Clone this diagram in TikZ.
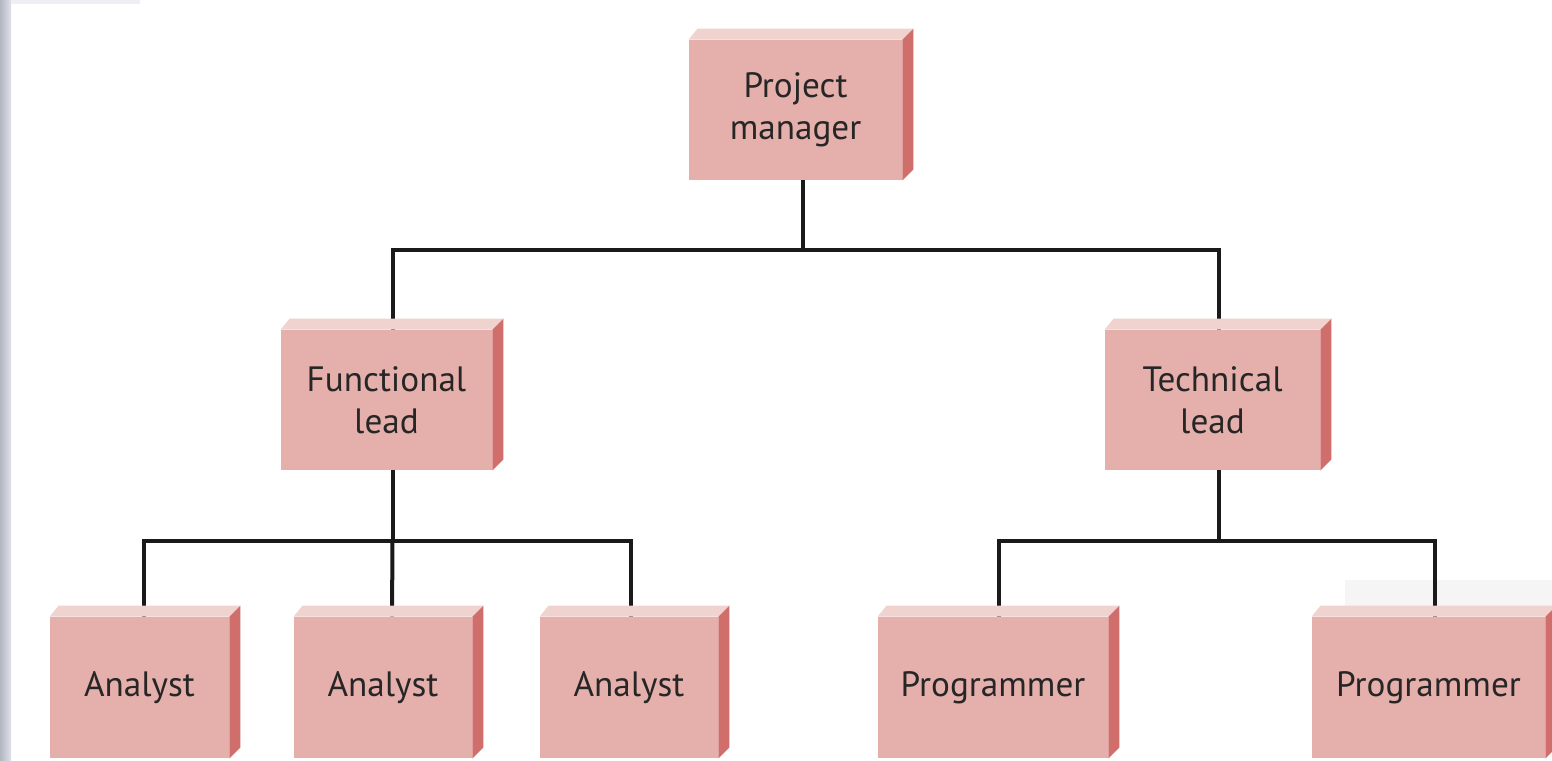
\documentclass[tikz,border=0pt]{standalone}
\usepackage{fontspec}
\setmainfont{PT Sans}
\usetikzlibrary{calc}
\definecolor{frontc}{HTML}{E5AFAB}
\definecolor{topc}{HTML}{F0D2CE}
\definecolor{sidec}{HTML}{D06E6C}
\definecolor{stripc}{HTML}{D2D6E2}
\definecolor{txtc}{HTML}{262626}
\definecolor{linec}{HTML}{1A1A1A}
\pgfdeclarelayer{paper}
\pgfdeclarelayer{wires}
\pgfsetlayers{paper,wires,main}
\tikzset{
  orgbox/.style 2 args={fill=frontc, inner sep=0pt, minimum width=#1*0.5pt,
    minimum height=#2*0.5pt, align=center, text=txtc,
    font=\fontsize{17.6}{21}\selectfont},
  conn/.style={draw=linec, line width=2pt},
}
\newcommand\cubefaces[1]{%
  \fill[topc] (#1.north west) -- ++(9,-11) -- ($(#1.north east)+(11,-11)$) -- (#1.north east) -- cycle;
  \fill[sidec] (#1.north east) -- ++(11,-11) -- ($(#1.south east)+(11,-11)$) -- (#1.south east) -- cycle;}
\begin{document}
\begin{tikzpicture}[x=0.5pt,y=-0.5pt]
\useasboundingbox (0,0) rectangle (1552,760);
\begin{pgfonlayer}{paper}
\fill[white] (0,0) rectangle (1552,760);
% screenshot artefacts
\shade[left color=stripc!85!black, right color=stripc!70!white] (0,0) rectangle (11,760);
\fill[stripc!40!white] (11,0) rectangle (140,4);
\fill[black!4] (1345,580) rectangle (1552,606);
\end{pgfonlayer}

% boxes
\node[orgbox={213}{140}] (pm) at (795.5,110) {Project\\manager};
\node[orgbox={211}{140}] (fl) at (386.5,400) {Functional\\lead};
\node[orgbox={215}{140}] (tl) at (1212.5,400) {Technical\\lead};
\node[orgbox={179}{141}] (a1) at (139.5,687.5) {Analyst};
\node[orgbox={178}{141}] (a2) at (383,687.5) {Analyst};
\node[orgbox={178}{141}] (a3) at (629,687.5) {Analyst};
\node[orgbox={230}{141}] (p1) at (993,687.5) {Programmer};
\node[orgbox={233}{141}] (p2) at (1428.5,687.5) {Programmer};

\foreach \n in {pm,fl,tl,a1,a2,a3,p1,p2} {\cubefaces{\n}}

\begin{pgfonlayer}{wires}
  \coordinate (pmb) at ($(pm.south)+(7,0)$);
  \coordinate (flt) at ($(fl.north)+(6,0)$);
  \coordinate (flb) at ($(fl.south)+(6,0)$);
  \coordinate (tlt) at ($(tl.north)+(6,0)$);
  \coordinate (tlb) at ($(tl.south)+(6,0)$);
  \coordinate (a1t) at ($(a1.north)+(4,0)$);
  \coordinate (a2t) at ($(a2.north)+(9,0)$);
  \coordinate (a3t) at ($(a3.north)+(2,0)$);
  \coordinate (p1t) at ($(p1.north)+(6,0)$);
  \coordinate (p2t) at ($(p2.north)+(6,0)$);
  \draw[conn] (pmb) -- ++(0,70) coordinate (j1);
  \draw[conn] (flt) |- (j1) -| (tlt);
  \draw[conn] (flb) -- ++(0,71) coordinate (j2);
  \draw[conn] (a1t) |- (j2) -| (a3t);
  \draw[conn] (j2) -- (a2t);
  \draw[conn] (tlb) -- ++(0,71) coordinate (j3);
  \draw[conn] (p1t) |- (j3) -| (p2t);
\end{pgfonlayer}
\end{tikzpicture}
\end{document}
